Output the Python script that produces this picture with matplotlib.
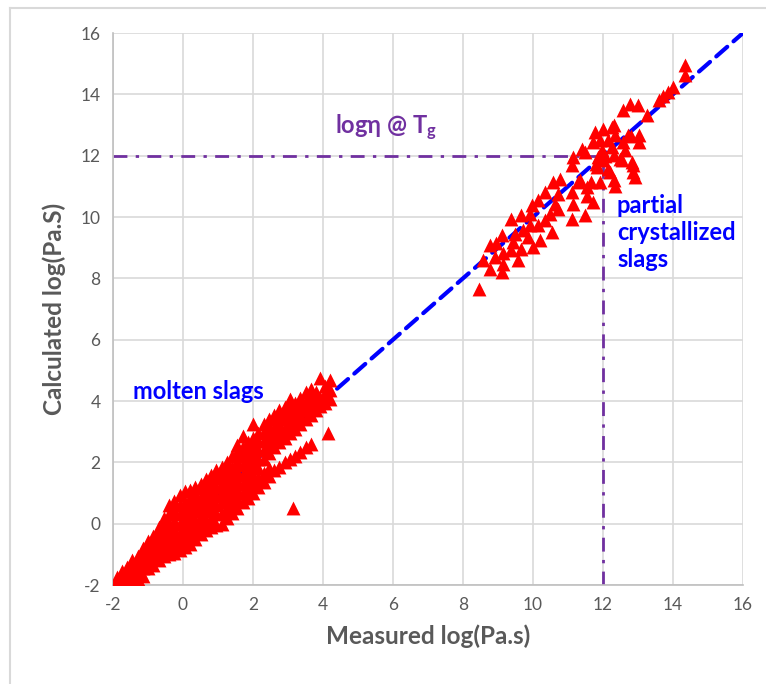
import matplotlib.pyplot as plt
import numpy as np
from matplotlib.lines import Line2D

# ── Data ───────────────────────────────────────────────────────────────────────
# molten slags: dense band, stored as columns of measured x with calculated ys
molten_cols = [-1.9, -1.75, -1.6, -1.45, -1.3, -1.15, -1.0, -0.85, -0.7, -0.55,
               -0.4, -0.25, -0.1, 0.05, 0.2, 0.35, 0.5, 0.65, 0.8, 0.95,
               1.1, 1.25, 1.4, 1.55, 1.7, 1.85, 2.0, 2.15, 2.3, 2.45,
               2.6, 2.75, 2.9, 3.05, 3.2, 3.35, 3.5, 3.65, 3.8, 3.9,
               4.05, 4.2]
molten_ys = [
    [-1.85, -1.75],
    [-1.85, -1.7, -1.55],
    [-1.85, -1.65, -1.4],
    [-1.85, -1.6, -1.35, -1.2],
    [-1.8, -1.55, -1.3, -1.05],
    [-1.7, -1.45, -1.2, -0.95, -0.8],
    [-1.45, -1.2, -0.95, -0.7, -0.55],
    [-1.35, -1.1, -0.85, -0.6, -0.4],
    [-1.2, -0.95, -0.7, -0.45, -0.2, -0.1],
    [-1.05, -0.8, -0.55, -0.3, -0.05, 0.2],
    [-1.0, -0.75, -0.5, -0.25, 0.0, 0.3, 0.6],
    [-0.95, -0.7, -0.45, -0.2, 0.1, 0.4, 0.75],
    [-0.85, -0.6, -0.3, 0.0, 0.3, 0.6, 0.95],
    [-0.75, -0.5, -0.2, 0.1, 0.4, 0.7, 1.05],
    [-0.65, -0.35, -0.05, 0.25, 0.55, 0.85, 1.1],
    [-0.5, -0.2, 0.1, 0.4, 0.7, 1.0, 1.2],
    [-0.35, -0.05, 0.25, 0.55, 0.85, 1.15, 1.3],
    [-0.2, 0.1, 0.4, 0.7, 1.0, 1.3, 1.45],
    [-0.1, 0.2, 0.5, 0.8, 1.1, 1.4, 1.6],
    [-0.05, 0.3, 0.6, 0.9, 1.2, 1.5, 1.75],
    [0.0, 0.35, 0.7, 1.0, 1.3, 1.6, 1.85],
    [0.2, 0.5, 0.8, 1.1, 1.4, 1.7, 2.0],
    [0.35, 0.65, 0.95, 1.25, 1.55, 1.85, 2.2],
    [0.5, 0.8, 1.1, 1.4, 1.7, 2.0, 2.35, 2.55],
    [0.7, 1.0, 1.3, 1.6, 1.9, 2.2, 2.5, 2.85],
    [0.85, 1.15, 1.45, 1.75, 2.05, 2.35, 2.65],
    [1.0, 1.3, 1.6, 1.9, 2.2, 2.5, 2.8, 3.25],
    [1.2, 1.5, 1.8, 2.1, 2.4, 2.7, 2.95],
    [1.35, 1.65, 2.1, 2.4, 2.7, 3.0, 3.25],
    [1.55, 1.8, 2.3, 2.6, 2.9, 3.2, 3.4],
    [1.75, 2.5, 2.8, 3.1, 3.4, 3.55],
    [1.85, 2.65, 2.95, 3.25, 3.5, 3.7],
    [2.0, 2.8, 3.1, 3.4, 3.65, 3.8],
    [2.1, 2.95, 3.25, 3.55, 3.8, 4.05],
    [2.2, 3.1, 3.4, 3.7, 3.95],
    [2.35, 3.25, 3.55, 3.85, 4.1],
    [2.5, 3.4, 3.7, 4.0, 4.3],
    [2.6, 3.55, 3.85, 4.15, 4.4],
    [3.7, 4.0, 4.3],
    [3.85, 4.1, 4.75],
    [3.95, 4.25, 4.5],
    [4.05, 4.35, 4.7],
]
molten_outliers = [(4.15, 2.95), (3.15, 0.5)]

# partial crystallized slags: individual points
cryst_pts = [
    (8.45, 7.65), (8.57, 8.6), (8.76, 9.08), (8.76, 8.32), (8.91, 8.7),
    (8.95, 9.14), (9.1, 9.41), (9.1, 8.21), (9.15, 8.48), (9.15, 8.81),
    (9.38, 8.92), (9.43, 9.19), (9.48, 9.46), (9.57, 8.6), (9.67, 8.97),
    (9.38, 9.95), (9.67, 10.05), (9.72, 9.57), (9.86, 9.35), (9.91, 9.73),
    (9.91, 10.11), (9.96, 10.38), (10.0, 9.03), (10.15, 10.54), (10.15, 9.73),
    (10.2, 9.24), (10.34, 10.81), (10.34, 9.89), (10.48, 10.11), (10.53, 9.51),
    (10.58, 11.14), (10.63, 10.43), (10.72, 10.76), (10.72, 10.27), (10.77, 11.25),
    (11.1, 11.69), (11.1, 10.81), (11.15, 10.43), (11.1, 9.95), (11.29, 11.14),
    (11.48, 10.05), (11.53, 10.97), (11.53, 10.7), (11.49, 12.13), (11.67, 11.14),
    (11.72, 10.49), (11.72, 12.46), (11.81, 11.74), (11.91, 11.14), (11.91, 12.52),
    (12.0, 11.85), (12.05, 11.98), (12.15, 12.52), (12.19, 11.46), (12.3, 12.03),
    (12.34, 12.68), (12.3, 13.0), (12.34, 11.02), (12.53, 11.85), (12.58, 13.5),
    (12.62, 12.2), (12.77, 13.7), (12.8, 12.63), (12.86, 11.69), (12.91, 11.3),
    (13.0, 13.65), (13.04, 12.68), (13.04, 12.46), (13.27, 13.33), (13.6, 13.8),
    (13.7, 13.95), (13.85, 14.08), (14.0, 14.25), (14.34, 14.62), (14.34, 14.95),
    (12.25, 12.94), (12.01, 12.88), (11.77, 12.78), (12.72, 12.67), (12.58, 12.45),
    (12.25, 12.29), (11.96, 12.18), (11.39, 12.23), (11.15, 11.96), (11.86, 11.96),
    (12.49, 11.9), (12.82, 11.8), (12.87, 11.47), (12.15, 11.58), (12.3, 11.2),
    (11.82, 11.63), (11.34, 11.2),
]

x_ticks = [-2, 0, 2, 4, 6, 8, 10, 12, 14, 16]
y_ticks = [-2, 0, 2, 4, 6, 8, 10, 12, 14, 16]
tg_level = 12

# ── Styling ────────────────────────────────────────────────────────────────────
FONT = ["Lato", "DejaVu Sans"]
plt.rcParams["font.family"] = FONT
plt.rcParams["axes.unicode_minus"] = False
plt.rcParams["mathtext.fontset"] = "custom"
plt.rcParams["mathtext.rm"] = "Lato:bold"
plt.rcParams["mathtext.it"] = "Lato:bold"
plt.rcParams["mathtext.bf"] = "Lato:bold"

GRID = "#d9d9d9"
TXT = "#595959"
PURPLE = "#7030a0"
BLUE = "#0000ff"

# ── Build point arrays ─────────────────────────────────────────────────────────
mx, my = [], []
for cx, ys in zip(molten_cols, molten_ys):
    for yv in ys:
        mx.append(cx)
        my.append(yv)
for ox, oy in molten_outliers:
    mx.append(ox)
    my.append(oy)
cx_arr = np.array([p[0] for p in cryst_pts])
cy_arr = np.array([p[1] for p in cryst_pts])

# ── Figure ─────────────────────────────────────────────────────────────────────
fig = plt.figure(figsize=(7.66, 6.84), dpi=100)
ax = fig.add_axes([113 / 766, 1 - 585 / 684, 630 / 766, 552 / 684])

# outer chart frame (only left/top edges visible in the reference crop)
fig.add_artist(Line2D([10 / 766, 10 / 766], [0, 1 - 8 / 684],
                      transform=fig.transFigure, color=GRID, lw=1.5))
fig.add_artist(Line2D([10 / 766, 1], [1 - 8 / 684, 1 - 8 / 684],
                      transform=fig.transFigure, color=GRID, lw=1.5))

ax.set_xlim(-2, 16)
ax.set_ylim(-2, 16)
ax.set_xticks(x_ticks)
ax.set_yticks(y_ticks)
ax.grid(True, color=GRID, lw=1.2, zorder=0)
ax.set_axisbelow(True)
for s in ["top", "right"]:
    ax.spines[s].set_visible(False)
for s in ["left", "bottom"]:
    ax.spines[s].set_color("#bfbfbf")
    ax.spines[s].set_linewidth(1.2)
ax.tick_params(length=0, labelsize=12.5, colors=TXT, pad=9)

# 1:1 line under the points
ax.plot([-2, 16], [-2, 16], color=BLUE, lw=3, dashes=(3.5, 2), zorder=2,
        dash_capstyle="round")

# Tg reference lines
ax.plot([-2, tg_level], [tg_level, tg_level], color=PURPLE, lw=2,
        dashes=(5, 3, 1.2, 3), zorder=2)
ax.plot([tg_level, tg_level], [-2, tg_level], color=PURPLE, lw=2,
        dashes=(5, 3, 1.2, 3), zorder=2)

ax.scatter(mx, my, marker="^", s=100, color="#ff0000", lw=0, zorder=3)
ax.scatter(cx_arr, cy_arr, marker="^", s=100, color="#ff0000", lw=0, zorder=3)

# annotations
ax.text(5.8, 12.9, r"logη @ T$_{\mathrm{g}}$", color=PURPLE, fontsize=17,
        fontweight="bold", ha="center", va="center", family=FONT)
ax.text(12.4, 10.75, "partial\ncrystallized\nslags", color=BLUE, fontsize=17,
        fontweight="bold", ha="left", va="top", linespacing=1.2, family=FONT)
ax.text(-1.43, 4.3, "molten slags", color=BLUE, fontsize=17,
        fontweight="bold", ha="left", va="center", family=FONT)

ax.set_xlabel("Measured log(Pa.s)", fontsize=17.5, fontweight="bold",
              color=TXT, labelpad=8)
ax.set_ylabel("Calculated log(Pa.S)", fontsize=17.5, fontweight="bold",
              color=TXT, labelpad=10)

fig.savefig("out.png", dpi=100)
